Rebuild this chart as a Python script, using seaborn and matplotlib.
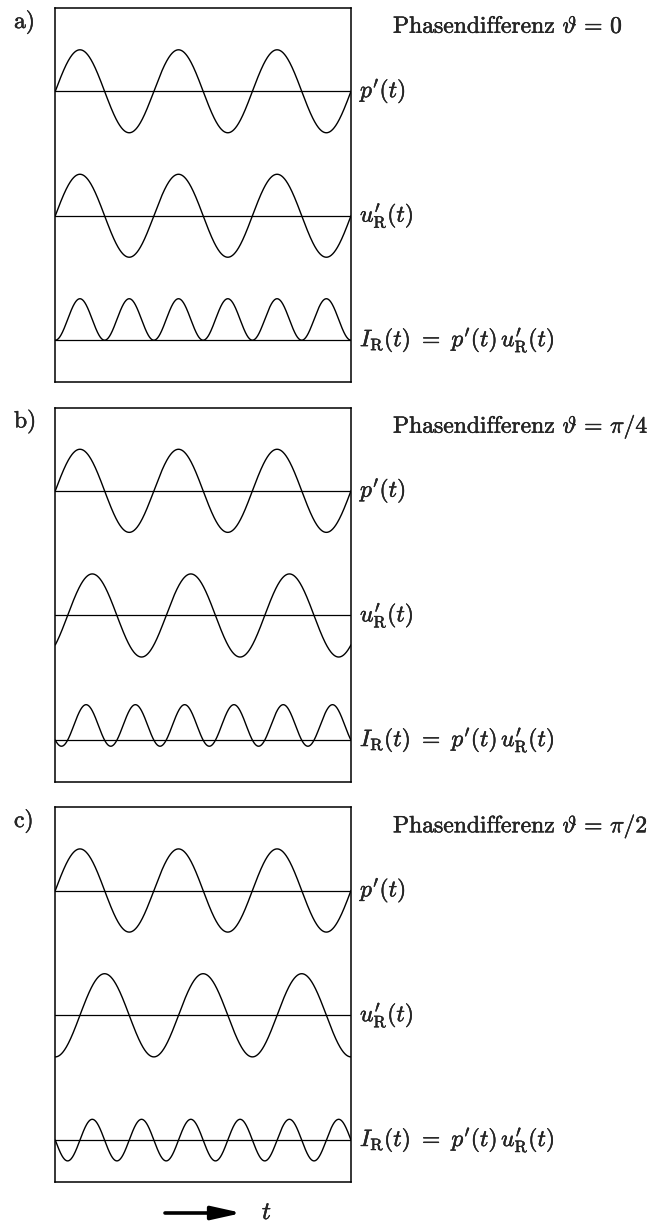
import numpy as np
import matplotlib
matplotlib.use("Agg")
import matplotlib.pyplot as plt
import matplotlib.patheffects as pe
import seaborn as sns

# ---- data ----
panel_labels = ["a)", "b)", "c)"]
phase_values = [0.0, np.pi / 4, np.pi / 2]          # phase difference theta
phase_texts = ["0", r"\pi/4", r"\pi/2"]
n_periods = 3                                         # periods of p'(t) shown
amplitude = 1.0
series_labels = [r"$p^{\prime}(t)$", r"$u_{\mathrm{R}}^{\prime}(t)$",
                 r"$I_{\mathrm{R}}(t)\ =\ p^{\prime}(t)\,u_{\mathrm{R}}^{\prime}(t)$"]

sns.set_theme(style="white")
plt.rcParams["font.family"] = "serif"
plt.rcParams["font.serif"] = ["cmr10", "DejaVu Serif"]
plt.rcParams["mathtext.fontset"] = "cm"
plt.rcParams["axes.unicode_minus"] = False

W, H = 660, 1225
fig = plt.figure(figsize=(W / 100, H / 100), dpi=100)

# axes boxes in pixels: (left, top, right, bottom)
boxes = [(55.3, 8.3, 351.0, 381.7), (55.3, 407.7, 351.0, 781.7), (55.3, 807.3, 351.0, 1181.7)]
offsets = [6.0, 3.0, 0.0]   # vertical baselines for p', u', I

t = np.linspace(0, n_periods * 2 * np.pi, 1200)
fs = 17
stroke = [pe.withStroke(linewidth=0.3, foreground="black")]

for i, (box, phi, ptxt, plab) in enumerate(zip(boxes, phase_values, phase_texts, panel_labels)):
    l, tp, r, b = box
    ax = fig.add_axes([l / W, (H - b) / H, (r - l) / W, (b - tp) / H])
    p = amplitude * np.sin(t)
    u = amplitude * np.sin(t - phi)
    I = p * u
    for y, off in zip([p, u, I], offsets):
        ax.axhline(off, color="black", lw=0.9)
        sns.lineplot(x=t, y=y + off, ax=ax, color="black", lw=1.0, sort=False)
    ax.set_xlim(0, n_periods * 2 * np.pi)
    ax.set_ylim(-1, 8)
    ax.set_xticks([])
    ax.set_yticks([])
    ax.set_xlabel("")
    ax.set_ylabel("")
    for s in ax.spines.values():
        s.set_visible(True)
        s.set_color("black")
        s.set_linewidth(1.1)
    tr = ax.get_yaxis_transform()
    wpx = r - l
    hpx = b - tp
    for lab, off in zip(series_labels, offsets):
        ax.text(1 + 9 / wpx, off, lab, transform=tr, ha="left", va="center",
                fontsize=fs, path_effects=stroke)
    ax.text((393 - l) / wpx, 1 - 18.5 / hpx,
            r"Phasendifferenz $\vartheta\, =\, " + ptxt + "$",
            transform=ax.transAxes, ha="left", va="center", fontsize=fs,
            path_effects=stroke)
    ax.text((14 - l) / wpx, 1 - 14 / hpx, plab, transform=ax.transAxes,
            ha="left", va="center", fontsize=fs, path_effects=stroke)

# time arrow
ax.annotate("", xy=(242, 12), xytext=(165, 12), xycoords="figure pixels",
            textcoords="figure pixels",
            arrowprops=dict(arrowstyle="-|>,head_length=0.9,head_width=0.2",
                            lw=2.6, color="black", mutation_scale=20,
                            shrinkA=0, shrinkB=0))
fig.text(267 / W, 12 / H, r"$t$", ha="center", va="center", fontsize=fs + 1,
         path_effects=stroke)

fig.savefig("out.png", dpi=100, facecolor="white")
